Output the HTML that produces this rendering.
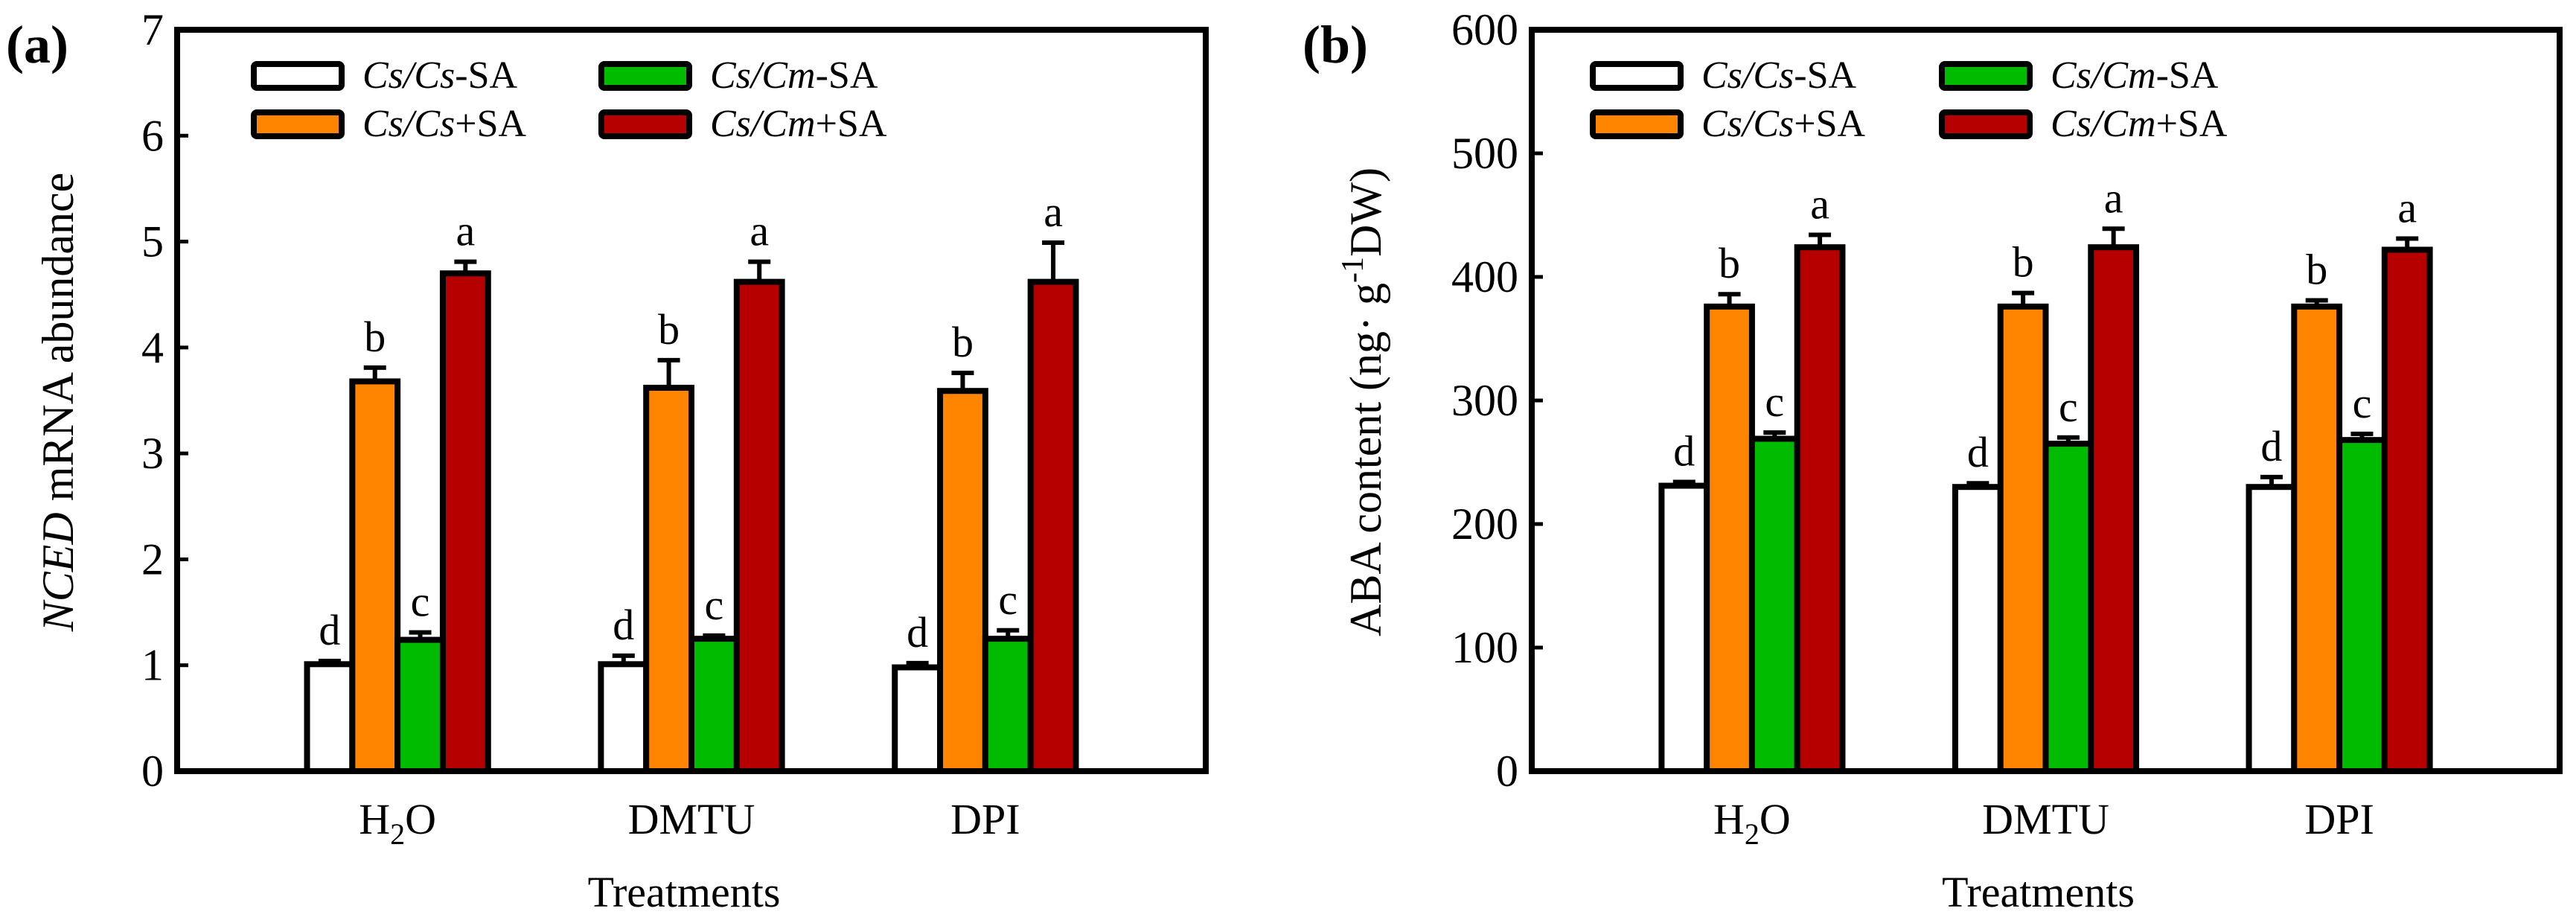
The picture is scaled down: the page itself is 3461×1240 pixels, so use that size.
<!DOCTYPE html>
<html><head><meta charset="utf-8"><style>
html,body{margin:0;padding:0;background:#fff}
svg{display:block;font-family:"Liberation Serif",serif}
</style></head><body>
<svg id="fig" width="3461" height="1240" viewBox="0 0 3461 1240" xmlns="http://www.w3.org/2000/svg"></svg>
<script>
const categories = ["H2O","DMTU","DPI"];
const seriesNames = ["Cs/Cs-SA","Cs/Cs+SA","Cs/Cm-SA","Cs/Cm+SA"];
const ncedValues = [[1.01,1.01,0.98],[3.68,3.62,3.59],[1.24,1.25,1.25],[4.70,4.62,4.62]];
const ncedErrors = [[0.03,0.08,0.04],[0.13,0.26,0.17],[0.07,0.03,0.08],[0.11,0.19,0.37]];
const abaValues = [[231,230,230],[376,376,376],[269,265,268],[424,424,422]];
const abaErrors = [[3,3,8],[10,11,5],[5,5,5],[10,15,9]];
const letters = [["d","d","d"],["b","b","b"],["c","c","c"],["a","a","a"]];
const ncedTicks = [0,1,2,3,4,5,6,7];
const abaTicks = [0,100,200,300,400,500,600];
const colors = ["#ffffff","#ff8400","#00bb00","#b60000"];

const svg = document.getElementById('fig');
const NS = "http://www.w3.org/2000/svg";
function mk(tag, attrs, parent){const e=document.createElementNS(NS,tag);for(const k in attrs)e.setAttribute(k,attrs[k]);(parent||svg).appendChild(e);return e;}

function panel(opt){
  const g = mk('g',{});
  
  
  const L=opt.left,R=opt.right,T=40,B=1036;
  const x = v => L + (v-0.25)/3.5*(R-L);
  const y = v => B - v/opt.max*(B-T);
  const bw = 0.154*(R-L)/3.5;
  // ticks
  opt.ticks.forEach(t=>{
    const tl = mk('line',{x1:L,x2:L+15,y1:y(t),y2:y(t),stroke:'#000','stroke-width':5},g);
    
    
    const tx = mk('text',{x:L-18,y:y(t)+20,'text-anchor':'end','font-size':60,fill:'#000'},g);
    tx.textContent = t;
    
    
  });
  // bars
  categories.forEach((c,ci)=>{
    const cx = x(ci+1);
    opt.values.forEach((vals,si)=>{
      const bx = cx - 2*bw + si*bw;
      const v = vals[ci], e = opt.errors[si][ci];
      const bar = mk('rect',{x:bx,y:y(v),width:bw,height:B-y(v),fill:colors[si],stroke:'#000','stroke-width':8},g);
      
      
      const mx = bx+bw/2;
      const el = mk('line',{x1:mx,x2:mx,y1:y(v),y2:y(v+e),stroke:'#000','stroke-width':6},g);
      
      
      const cap = mk('line',{x1:mx-15,x2:mx+15,y1:y(v+e),y2:y(v+e),stroke:'#000','stroke-width':6},g);
      
      
      const lt = mk('text',{x:mx,y:y(v+e)-22,'text-anchor':'middle','font-size':58,fill:'#000'},g);
      lt.textContent = letters[si][ci];
      
      
    });
    const cl = mk('text',{x:cx,y:1120,'text-anchor':'middle','font-size':58,fill:'#000'},g);
    if(c==="H2O"){cl.innerHTML='H<tspan font-size="40" dy="14">2</tspan><tspan dy="-14">O</tspan>';}
    else cl.textContent=c;
    
    
  });
  const frame = mk('rect',{x:L,y:T,width:R-L,height:B-T,fill:'none',stroke:'#000','stroke-width':8},g);
  
  
  // legend
  const lg = mk('g',{},g);
  
  
  const pos=[[0,0],[0,1],[1,0],[1,1]];
  seriesNames.forEach((s,si)=>{
    const [col,row]=pos[si];
    const sx = opt.leg[col], sy = 86+row*65;
    const sw = mk('rect',{x:sx,y:sy,width:118,height:32,rx:4,fill:colors[si],stroke:'#000','stroke-width':8},lg);
    
    
    const parts=s.split('/'); const a=parts[0], rest=parts[1];
    const it = rest.slice(0,2), tail = rest.slice(2);
    const t = mk('text',{x:sx+146,y:sy+32,'font-size':52,fill:'#000'},lg);
    t.innerHTML='<tspan font-style="italic">'+a+'/'+it+'</tspan>'+tail;
    
    
  });
  const ttl = mk('text',{x:opt.titleX,y:540,'text-anchor':'middle','font-size':60,fill:'#000',transform:'rotate(-90 '+opt.titleX+' 540)'},g);
  ttl.innerHTML = opt.title;
  
  
  const xt = mk('text',{x:(L+R)/2-10,y:1218,'text-anchor':'middle','font-size':58,fill:'#000'},g);
  xt.textContent='Treatments';
  
  
  const pl = mk('text',{x:opt.labelX,y:84,'font-size':72,'font-weight':'bold',fill:'#000'},g);
  pl.textContent=opt.label;
  
  
}
panel({name:'panel-a-nced',left:238,right:1620,max:7,ticks:ncedTicks,values:ncedValues,errors:ncedErrors,
  leg:[341,808],titleX:98,title:'<tspan font-style="italic">NCED</tspan> mRNA abundance',labelX:8,label:'(a)'});
panel({name:'panel-b-aba',left:2058,right:3439,max:600,ticks:abaTicks,values:abaValues,errors:abaErrors,
  leg:[2140,2609],titleX:1855,title:'ABA content (ng· g<tspan font-size="42" dy="-24">-1</tspan><tspan dy="24">DW)</tspan>',labelX:1750,label:'(b)'});
</script>
</body></html>
